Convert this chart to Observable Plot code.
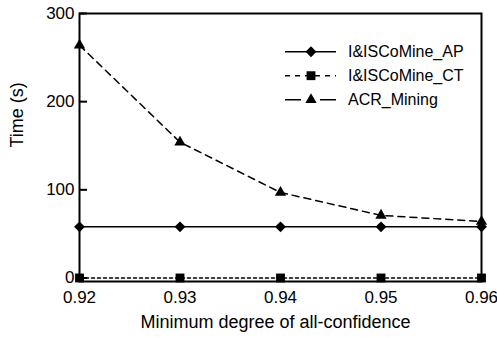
<!DOCTYPE html>
<html>
<head>
<meta charset="utf-8">
<script src="https://cdn.jsdelivr.net/npm/d3@7"></script>
<script src="https://cdn.jsdelivr.net/npm/@observablehq/plot@0.6"></script>
<style>
  body { margin: 0; background: white; }
  #wrap { position: relative; width: 497px; height: 338px; }
  #legend { position: absolute; left: 0; top: 0; pointer-events: none; }
</style>
</head>
<body>
<div id="wrap"></div>
<script>
const xValues = [0.92, 0.93, 0.94, 0.95, 0.96];
const apTimes = [58, 58, 58, 58, 58];
const ctTimes = [0, 0, 0, 0, 0];
const acrTimes = [264, 154, 97, 71, 64];
const seriesNames = ["I&ISCoMine_AP", "I&ISCoMine_CT", "ACR_Mining"];
const xTicks = [0.92, 0.93, 0.94, 0.95, 0.96];
const yTicks = [0, 100, 200, 300];

const seriesStyle = [
  {name: seriesNames[0], values: apTimes, dash: null, legendDash: null, symbol: "diamond2", r: 4.9, lr: 4.9},
  {name: seriesNames[1], values: ctTimes, dash: "3,3", legendDash: "5,5", symbol: "square", r: 5.0, lr: 5.0},
  {name: seriesNames[2], values: acrTimes, dash: "7,5", legendDash: "16,19,16", symbol: "triangle", r: 4.2, lr: 4.2}
];

const marks = [];
for (const s of seriesStyle) {
  const rows = xValues.map((x, i) => ({x, y: s.values[i]}));
  marks.push(Plot.line(rows, {x: "x", y: "y", stroke: "black", strokeWidth: 1.5, strokeDasharray: s.dash}));
  marks.push(Plot.dot(rows, {x: "x", y: "y", symbol: () => s.symbol, fill: "black", stroke: "none", r: s.r}));
}

const chart = Plot.plot({
  width: 497,
  height: 338,
  marginLeft: 79,
  marginRight: 16,
  marginTop: 13,
  marginBottom: 57,
  style: {fontFamily: "'Liberation Sans', Arial, sans-serif", fontSize: "17px", background: "white", color: "black"},
  x: {domain: [0.92, 0.96]},
  y: {domain: [-4, 300]},
  marks: [
    ...marks,
    Plot.frame({stroke: "black", strokeWidth: 2}),
    Plot.axisX({ticks: xTicks, tickSize: 0, tickPadding: 9, tickFormat: d3.format(".2f"), label: null, fontSize: 17}),
    Plot.axisY({ticks: yTicks, tickSize: 0, tickPadding: 5, label: null, fontSize: 17}),
    Plot.axisY({ticks: yTicks, tickSize: 8, dx: 8, tickFormat: () => "", label: null, strokeWidth: 2}),
    Plot.text(["Minimum degree of all-confidence"], {frameAnchor: "bottom", dy: 46, dx: -5, fontSize: 18, fill: "black"}),
    Plot.text(["Time (s)"], {frameAnchor: "left", dx: -62, rotate: -90, fontSize: 18, fill: "black"})
  ]
});

const wrap = document.getElementById("wrap");
wrap.appendChild(chart);

// Legend overlay
const svg = d3.select(wrap).append("svg")
  .attr("id", "legend")
  .attr("width", 497).attr("height", 338);
const lg = svg.append("g").attr("font-family", "'Liberation Sans', Arial, sans-serif").attr("font-size", 16);
seriesStyle.forEach((s, i) => {
  const y = 51.7 + 24 * i;
  lg.append("line").attr("x1", 285).attr("x2", 336).attr("y1", y).attr("y2", y)
    .attr("stroke", "black").attr("stroke-width", 1.5)
    .attr("stroke-dasharray", s.legendDash);
  const sym = {diamond2: d3.symbolDiamond2, square: d3.symbolSquare, triangle: d3.symbolTriangle}[s.symbol];
  lg.append("path").attr("d", d3.symbol(sym, Math.PI * s.lr * s.lr)())
    .attr("transform", `translate(311,${y})`).attr("fill", "black");
  lg.append("text").attr("x", 348).attr("y", y).attr("dy", "0.35em").attr("fill", "black").text(s.name);
});
</script>
</body>
</html>
